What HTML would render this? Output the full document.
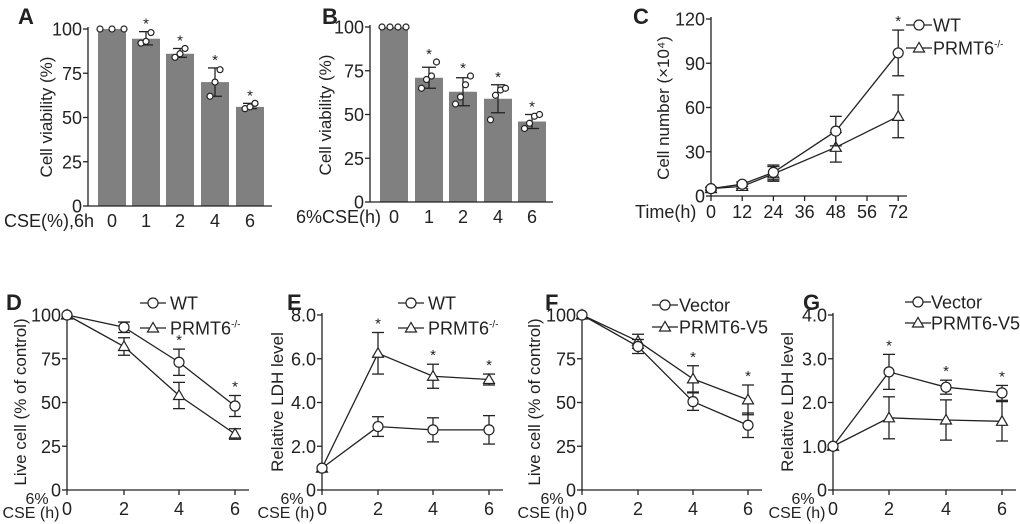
<!DOCTYPE html>
<html><head><meta charset="utf-8"><style>
body{margin:0;background:#fff;width:1020px;height:524px;overflow:hidden}
svg{display:block;font-family:"Liberation Sans",Arial,sans-serif;fill:#222}
</style></head><body>
<svg id="fig" width="1020" height="524" viewBox="0 0 1020 524"></svg>
<script>
// Panel A data
const aCats=["0","1","2","4","6"];
const aMeans=[100,94.5,86,70,56];
const aLo=[100,91,84,62,55];
const aHi=[100,98.5,89,78,58];
const aPts=[[100,100,100],[92,93,98],[84,86,89],[62,70,77],[55,56,58]];
const aStar=[0,1,1,1,1];
// Panel B data
const bCats=["0","1","2","4","6"];
const bMeans=[100,71,63,59,46];
const bLo=[100,65,55,51,42];
const bHi=[100,77,71,67,50];
const bPts=[[100,100,100,100],[65,70,72,80],[56,60,67,72],[47,61,64,65],[42,45,49,50]];
const bStar=[0,1,1,1,1];
const barTicks=[0,25,50,75,100];
// Panel C data
const cCats=["0","12","24","36","48","56","72"];
const cIdx=[0,1,2,4,6];
const cWT=[5,8,16,44,97];
const cWTe=[1,1.5,5,10,15.5];
const cKO=[5,6.5,15,33,54];
const cKOe=[1,1.5,5,10,14.5];
const cTicks=[0,30,60,90,120];
// Panel D
const tCats=["0","2","4","6"];
const dWT=[100,93,73,48];const dWTe=[0,3,7.5,6];
const dKO=[100,82,54,32];const dKOe=[0,5,7.5,3];
const pctTicks=[0,25,50,75,100];
// Panel E
const eWT=[1,2.9,2.75,2.75];const eWTe=[0,0.45,0.55,0.65];
const eKO=[1,6.25,5.2,5.05];const eKOe=[0,0.95,0.55,0.25];
const eTicks=[0,2,4,6,8];
// Panel F
const fVec=[100,82,50.5,37];const fVece=[0,4,5,7];
const fOE=[100,85,63.5,51.5];const fOEe=[0,4,7.5,8.5];
// Panel G
const gVec=[1,2.7,2.35,2.22];const gVece=[0,0.4,0.16,0.17];
const gOE=[1,1.65,1.6,1.57];const gOEe=[0,0.48,0.46,0.45];
const gTicks=[0,1,2,3,4];

const NS="http://www.w3.org/2000/svg";
const svg=document.getElementById('fig');
const TF=18;
function mk(tag,at,parent){const e=document.createElementNS(NS,tag);for(const k in at)e.setAttribute(k,at[k]);(parent||svg).appendChild(e);return e;}
function txt(s,x,y,size,anchor,parent,extra){const t=mk('text',Object.assign({x:x,y:y,'font-size':size,'text-anchor':anchor||'middle'},extra||{}),parent);t.textContent=s;return t;}
function grp(name){const g=mk('g',{});return g;}
function line(x1,y1,x2,y2,p,w){return mk('line',{x1:x1,y1:y1,x2:x2,y2:y2,stroke:'#222','stroke-width':w||1.3},p);}
function yAxis(g,x,y0,y1,xEnd,ticks,scale,fmt){
  line(x,y1,x,y0,g);line(x,y0,xEnd,y0,g);
  ticks.forEach(v=>{const y=scale(v);line(x-5,y,x,y,g);const t=txt(fmt?fmt(v):String(v),x-6,y+6.5,TF,'end',g);});
}
function ylabel(g,s,x,y){const t=txt(s,0,0,17,'middle',g,{transform:`translate(${x},${y}) rotate(-90)`});}
function letter(s,x,y){const t=txt(s,x,y,22,'start',svg,{'font-weight':'bold'});}

function barPanel(name,ax,y0,y100,xEnd,centers,cats,means,lo,hi,pts,stars,xtitle,xtx){
  const g=grp(name);
  const sy=v=>y0+(y100-y0)*v/100;
  centers.forEach((cx,i)=>{
    const b=mk('rect',{x:cx-14,y:sy(means[i]),width:28,height:y0-sy(means[i]),fill:'#808080'},g);
    
    if(hi[i]!==lo[i]){line(cx,sy(hi[i]),cx,sy(lo[i]),g);line(cx-7,sy(hi[i]),cx+7,sy(hi[i]),g);line(cx-7,sy(lo[i]),cx+7,sy(lo[i]),g);}
    const n=pts[i].length;
    pts[i].forEach((v,j)=>{const off=(j-(n-1)/2)*(n>3&&i===0?8:(n>3?5:(i===0?12:5)));
      const c=mk('circle',{cx:cx+off,cy:sy(v),r:3,fill:'#fff',stroke:'#222','stroke-width':1.2},g);
      });
    if(stars[i]){const st=txt('*',cx,sy(Math.max(hi[i],...pts[i]))-3,15,'middle',g);}
    const tl=txt(cats[i],cx,y0+21,TF,'middle',g);
  });
  yAxis(g,ax,y0,y100-2,xEnd,barTicks,sy);
  const xt=txt(xtitle,xtx,y0+21,TF,'start',g);
  return g;
}
letter('A',18,24);
const ga=barPanel('panel-a-chart',88,206,29,272,[112,146,180,215,250],aCats,aMeans,aLo,aHi,aPts,aStar,'CSE(%),6h',4);
ylabel(ga,'Cell viability (%)',52,117);
letter('B',322,24);
const gb=barPanel('panel-b-chart',370,202,27,553,[394,429,463,498,532],bCats,bMeans,bLo,bHi,bPts,bStar,'6%CSE(h)',296);
ylabel(gb,'Cell viability (%)',331,115);

function marker(g,type,x,y){
  let m;
  if(type==='o')m=mk('circle',{cx:x,cy:y,r:5,fill:'#fff',stroke:'#222','stroke-width':1.2},g);
  else m=mk('polygon',{points:`${x},${y-5.5} ${x-5.5},${y+4} ${x+5.5},${y+4}`,fill:'#fff',stroke:'#222','stroke-width':1.2},g);
  
}
function series(g,xs,vals,errs,sy,type,name){
  const sg=mk('g',{},g);
  const p=xs.map((x,i)=>x+','+sy(vals[i])).join(' ');
  mk('polyline',{points:p,fill:'none',stroke:'#222','stroke-width':1.3},sg);
  xs.forEach((x,i)=>{if(errs[i]>0){const a=sy(vals[i]+errs[i]),b=sy(vals[i]-errs[i]);line(x,a,x,b,sg);line(x-6,a,x+6,a,sg);line(x-6,b,x+6,b,sg);}});
  xs.forEach((x,i)=>marker(sg,type,x,sy(vals[i])));
}
function legend(g,lx,tx,y1,y2,l1,l2,sup){
  [[y1,'o',l1],[y2,'t',l2]].forEach(([y,t,l],k)=>{
    const lg=mk('g',{},g);
    line(lx-13,y,lx+13,y,lg);marker(lg,t,lx,y);
    const tt=txt(l,tx,y+6.5,18,'start',lg);
    if(sup&&k===1){const ts=mk('tspan',{'font-size':10,dy:-7},tt);ts.textContent='-/-';}
  });
}
function stars(g,xs,tops,flags){xs.forEach((x,i)=>{if(flags[i]){const s=txt('*',x,tops[i]-4,15,'middle',g);}});}

// Panel C
letter('C',633,24);
const gc=grp('panel-c-chart');
const cy0=196,cyT=19,cx0=711,cstep=31.2;
const syc=v=>cy0+(cyT-cy0)*v/120;
const cxs=cIdx.map(i=>cx0+i*cstep);
yAxis(gc,cx0,cy0,cyT-2,907,cTicks,syc);
cCats.forEach((c,i)=>{const x=cx0+i*cstep;line(x,cy0,x,cy0+5,gc);const t=txt(c,x,cy0+22,TF,'middle',gc);});
const ct=txt('Time(h)',635,cy0+22,TF,'start',gc);
series(gc,cxs,cKO,cKOe,syc,'t','series-prmt6-ko');
series(gc,cxs,cWT,cWTe,syc,'o','series-wt');
stars(gc,cxs,cxs.map((x,i)=>syc(cWT[i]+cWTe[i])),[0,0,0,0,1]);
ylabel(gc,'Cell number (×10⁴)',669,108);
legend(gc,919,933,25,48,'WT','PRMT6',true);

function linePanel(name,L,ax,xs,ymax,ticks,fmt,A,Ae,B,Be,starFlags,ylab,ylx,leg){
  letter(L,leg.lx0,310);
  const g=grp(name);
  const y0=490,yT=315;
  const sy=v=>y0+(yT-y0)*v/ymax;
  yAxis(g,ax,y0,yT-2,xs[3]+14,ticks,sy,fmt);
  xs.forEach((x,i)=>{line(x,y0,x,y0+5,g);const t=txt(tCats[i],x,y0+25,TF,'middle',g);});
  const t1=txt('6%',ax-30,y0+14,16,'middle',g);
  const t2=txt('CSE (h)',ax-36,y0+28,16,'middle',g);
  series(g,xs,B,Be,sy,'t','series-triangle');
  series(g,xs,A,Ae,sy,'o','series-circle');
  stars(g,xs,xs.map((x,i)=>sy(Math.max(A[i]+Ae[i],B[i]+Be[i]))),starFlags);
  ylabel(g,ylab,ylx,402);
  legend(g,leg.lx,leg.tx,leg.y1,leg.y2,leg.l1,leg.l2,leg.sup);
}
linePanel('panel-d-chart','D',67,[67,124,179,235],100,pctTicks,null,dWT,dWTe,dKO,dKOe,[0,0,1,1],'Live cell (% of control)',26,{lx0:6,lx:153,tx:170,y1:303,y2:328,l1:'WT',l2:'PRMT6',sup:true});
linePanel('panel-e-chart','E',322,[322,378,433,489],8,eTicks,v=>v===0?'0':v.toFixed(1),eWT,eWTe,eKO,eKOe,[0,1,1,1],'Relative LDH level',283,{lx0:287,lx:411,tx:428,y1:303,y2:328,l1:'WT',l2:'PRMT6',sup:true});
linePanel('panel-f-chart','F',582,[582,638,693,748],100,pctTicks,null,fVec,fVece,fOE,fOEe,[0,0,1,1],'Live cell (% of control)',540,{lx0:545,lx:665,tx:679,y1:305,y2:327,l1:'Vector',l2:'PRMT6-V5',sup:false});
linePanel('panel-g-chart','G',833,[833,889,946,1002],4,gTicks,v=>v===0?'0':v.toFixed(1),gVec,gVece,gOE,gOEe,[0,1,1,1],'Relative LDH level',793,{lx0:803,lx:918,tx:931,y1:302,y2:323,l1:'Vector',l2:'PRMT6-V5',sup:false});
</script>
</body></html>
